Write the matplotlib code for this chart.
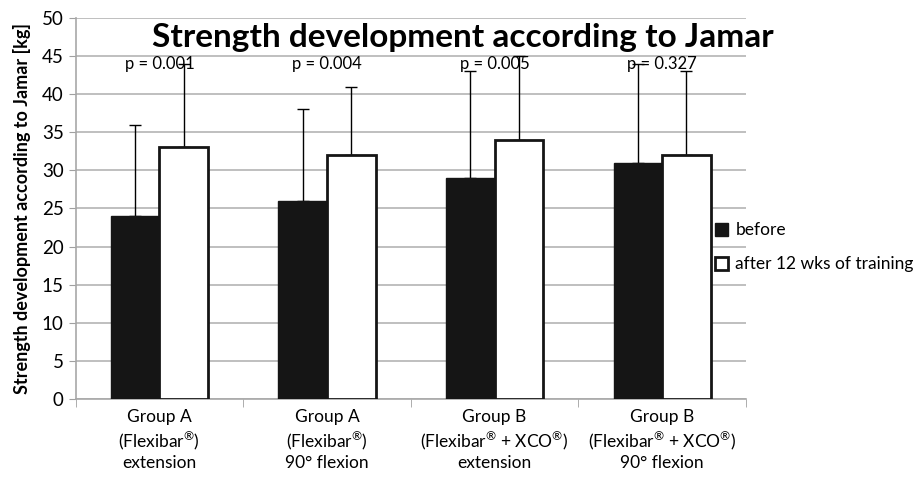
import numpy as np
import matplotlib.pyplot as plt
from matplotlib.patches import Patch

groups = ["Group A\n(Flexibar$^{®}$)\nextension", "Group A\n(Flexibar$^{®}$)\n90° flexion",
          "Group B\n(Flexibar$^{®}$ + XCO$^{®}$)\nextension",
          "Group B\n(Flexibar$^{®}$ + XCO$^{®}$)\n90° flexion"]
before = [24, 26, 29, 31]
before_sd = [12, 12, 14, 13]
after = [33, 32, 34, 32]
after_sd = [11, 9, 11, 11]
p_values = ["p = 0.001", "p = 0.004", "p = 0.005", "p = 0.327"]
p_level = 44

plt.rcParams['font.family'] = ['Lato', 'DejaVu Sans']
plt.rcParams['mathtext.fontset'] = 'custom'
plt.rcParams['mathtext.rm'] = 'Lato'
plt.rcParams['mathtext.it'] = 'Lato:italic'
plt.rcParams['mathtext.bf'] = 'Lato:bold'

fig = plt.figure(figsize=(9.22, 4.8), dpi=100)
ax = fig.add_axes([0.082, 0.169, 0.727, 0.7935])

x = np.arange(len(groups))
w = 0.29
ax.bar(x - w / 2, before, w, color='#151515', edgecolor='#151515', zorder=3)
ax.bar(x + w / 2, after, w, color='white', edgecolor='#151515', linewidth=2, zorder=3)
ax.errorbar(x - w / 2, before, yerr=[np.zeros(4), before_sd], fmt='none',
            ecolor='black', elinewidth=1, capsize=4, capthick=1, zorder=2)
ax.errorbar(x + w / 2, after, yerr=[np.zeros(4), after_sd], fmt='none',
            ecolor='black', elinewidth=1, capsize=4, capthick=1, zorder=2)

for i, p in enumerate(p_values):
    ax.text(x[i], p_level, p, ha='center', va='center', fontsize=12, zorder=4)

ax.set_xlim(-0.5, len(groups) - 0.5)
ax.set_ylim(0, 50)
ax.set_yticks(np.arange(0, 51, 5))
ax.set_xticks(x)
ax.set_xticklabels(groups, fontsize=12.5, linespacing=1.28)
ax.set_xticks(np.arange(-0.5, len(groups), 1), minor=True)
ax.tick_params(axis='x', which='major', length=0, pad=7)
ax.tick_params(axis='x', which='minor', length=6, color='#a0a0a0')
ax.tick_params(axis='y', length=5, color='#a0a0a0', labelsize=13.5)
ax.yaxis.grid(True, color='#b4b4b4', linewidth=1.2, zorder=0)
ax.set_axisbelow(True)
for s in ['top', 'right']:
    ax.spines[s].set_visible(False)
for s in ['left', 'bottom']:
    ax.spines[s].set_color('#a8a8a8')
    ax.spines[s].set_linewidth(1.2)

ax.set_ylabel("Strength development according to Jamar [kg]", fontsize=13,
              fontweight='bold', labelpad=8)
fig.text(0.502, 0.921, "Strength development according to Jamar", ha='center',
         va='center', fontsize=24, fontweight='bold')

handles = [Patch(facecolor='#151515', edgecolor='#151515'),
           Patch(facecolor='white', edgecolor='#151515', linewidth=2)]
fig.legend(handles, ["before", "after 12 wks of training"], loc='upper left',
           bbox_to_anchor=(0.776, 0.537), frameon=False, fontsize=12.5,
           handlelength=0.75, handleheight=0.8, handletextpad=0.4,
           labelspacing=1.05, borderpad=0, borderaxespad=0)

fig.savefig("out.png", dpi=100)
